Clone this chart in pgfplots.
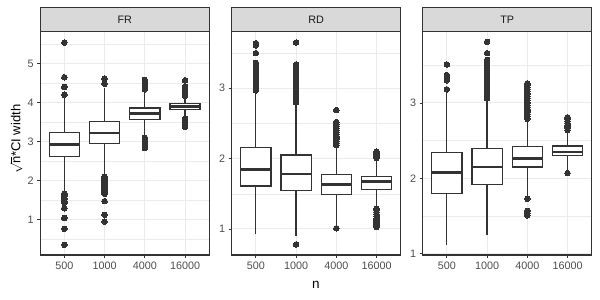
\documentclass[border=0pt]{standalone}
\usepackage{fontspec}
\setmainfont{Liberation Sans}
\usepackage{pgfplots}
\pgfplotsset{compat=1.18}
\usepgfplotslibrary{statistics}
\definecolor{grey10}{HTML}{1A1A1A}
\definecolor{grey20}{HTML}{333333}
\definecolor{grey30}{HTML}{4D4D4D}
\definecolor{grey85}{HTML}{D9D9D9}
\definecolor{grey92}{HTML}{EBEBEB}
\pgfplotsset{
  panel/.style={
    scale only axis, width=169pt, height=223pt, anchor=south west,
    xmin=0.4, xmax=4.6, xtick={1,2,3,4}, xticklabels={500,1000,4000,16000},
    axis line style={grey20, line width=1pt},
    tick style={grey20, line width=0.8pt},
    tick align=outside, major tick length=3pt, minor tick length=0pt,
    xtick pos=left, ytick pos=left,
    grid=both, major grid style={grey92, line width=1pt},
    minor grid style={grey92, line width=0.5pt},
    tick label style={font=\fontsize{10.8}{12}\selectfont, text=grey30},
    /pgf/number format/assume math mode=true,
    clip=false,
    boxplot/draw direction=y,
    boxplot/box extend=0.75, boxplot/whisker extend=0,
    boxplot/every median/.style={line width=2.8pt},
  },
  bx/.style={boxplot prepared={#1}, draw=grey20, fill=white, line width=1.3pt,
    solid, mark=*, mark size=2.8pt, mark options={fill=grey20, draw=grey20, line width=0pt}},
}
\newcommand{\strip}[1]{%
  \draw[grey20, line width=1pt, fill=grey85] (rel axis cs:0,1) rectangle ([yshift=24pt]rel axis cs:1,1);
  \node[text=grey10, font=\fontsize{10.8}{12}\selectfont] at ([yshift=12pt]rel axis cs:0.5,1) {#1};
}
\begin{document}
\begin{tikzpicture}
\useasboundingbox (0,0) rectangle (600pt,300pt);
% FR
\begin{axis}[panel, at={(40.2pt,45pt)}, ymin=0.09, ymax=5.81,
  ytick={1,2,3,4,5}, minor ytick={0.5,1.5,2.5,3.5,4.5,5.5}]
\addplot[bx={draw position=1, lower whisker=1.70, lower quartile=2.61, median=2.92, upper quartile=3.23, upper whisker=4.18}]
  coordinates {(0,4.20) (0,4.40) (0,4.65) (0,5.54) (0,1.67) (0,1.63) (0,1.59) (0,1.55) (0,1.51) (0,1.47) (0,1.43) (0,1.29) (0,1.04) (0,0.76) (0,0.35)};
\addplot[bx={draw position=2, lower whisker=2.16, lower quartile=2.95, median=3.22, upper quartile=3.51, upper whisker=4.38}]
  coordinates {(0,4.48) (0,4.61) (0,2.10) (0,2.06) (0,2.02) (0,1.98) (0,1.94) (0,1.90) (0,1.86) (0,1.82) (0,1.78) (0,1.74) (0,1.70) (0,1.66) (0,1.47) (0,1.12) (0,0.95)};
\addplot[bx={draw position=3, lower whisker=3.16, lower quartile=3.57, median=3.72, upper quartile=3.86, upper whisker=4.31}]
  coordinates {(0,4.34) (0,4.37) (0,4.40) (0,4.43) (0,4.46) (0,4.49) (0,4.52) (0,4.55) (0,4.58) (0,2.83) (0,2.86) (0,2.89) (0,2.92) (0,2.95) (0,2.98) (0,3.01) (0,3.04) (0,3.07) (0,3.10)};
\addplot[bx={draw position=4, lower whisker=3.65, lower quartile=3.82, median=3.90, upper quartile=3.98, upper whisker=4.12}]
  coordinates {(0,4.17) (0,4.20) (0,4.23) (0,4.26) (0,4.29) (0,4.32) (0,4.35) (0,4.38) (0,4.41) (0,4.57) (0,3.38) (0,3.41) (0,3.44) (0,3.47) (0,3.50) (0,3.53) (0,3.56) (0,3.59)};
\strip{FR}
\end{axis}
% RD
\begin{axis}[panel, at={(231.7pt,45pt)}, ymin=0.63, ymax=3.80,
  ytick={1,2,3}, minor ytick={0.5,1.5,2.5,3.5}]
\addplot[bx={draw position=1, lower whisker=0.93, lower quartile=1.61, median=1.85, upper quartile=2.16, upper whisker=2.94}]
  coordinates {(0,2.97) (0,3.00) (0,3.03) (0,3.06) (0,3.09) (0,3.12) (0,3.15) (0,3.18) (0,3.21) (0,3.24) (0,3.27) (0,3.30) (0,3.33) (0,3.36) (0,3.50) (0,3.61) (0,3.64)};
\addplot[bx={draw position=2, lower whisker=0.90, lower quartile=1.55, median=1.78, upper quartile=2.05, upper whisker=2.78}]
  coordinates {(0,2.80) (0,2.83) (0,2.86) (0,2.89) (0,2.92) (0,2.95) (0,2.98) (0,3.01) (0,3.04) (0,3.07) (0,3.10) (0,3.13) (0,3.16) (0,3.19) (0,3.22) (0,3.25) (0,3.28) (0,3.31) (0,3.34) (0,3.65) (0,0.78)};
\addplot[bx={draw position=3, lower whisker=1.06, lower quartile=1.49, median=1.63, upper quartile=1.77, upper whisker=2.17}]
  coordinates {(0,2.19) (0,2.22) (0,2.25) (0,2.28) (0,2.31) (0,2.34) (0,2.37) (0,2.40) (0,2.43) (0,2.46) (0,2.49) (0,2.52) (0,2.69) (0,1.01)};
\addplot[bx={draw position=4, lower whisker=1.32, lower quartile=1.56, median=1.68, upper quartile=1.75, upper whisker=1.98}]
  coordinates {(0,2.01) (0,2.04) (0,2.07) (0,2.10) (0,1.03) (0,1.06) (0,1.09) (0,1.12) (0,1.15) (0,1.18) (0,1.21) (0,1.24) (0,1.27) (0,1.29)};
\strip{RD}
\end{axis}
% TP
\begin{axis}[panel, at={(422.7pt,45pt)}, ymin=0.985, ymax=3.94,
  ytick={1,2,3}, minor ytick={1.5,2.5,3.5}]
\addplot[bx={draw position=1, lower whisker=1.12, lower quartile=1.80, median=2.08, upper quartile=2.34, upper whisker=3.13}]
  coordinates {(0,3.18) (0,3.30) (0,3.33) (0,3.37) (0,3.51)};
\addplot[bx={draw position=2, lower whisker=1.25, lower quartile=1.92, median=2.15, upper quartile=2.40, upper whisker=3.04}]
  coordinates {(0,3.06) (0,3.09) (0,3.12) (0,3.15) (0,3.18) (0,3.21) (0,3.24) (0,3.27) (0,3.30) (0,3.33) (0,3.36) (0,3.39) (0,3.42) (0,3.45) (0,3.48) (0,3.51) (0,3.54) (0,3.57) (0,3.66) (0,3.81)};
\addplot[bx={draw position=3, lower whisker=1.78, lower quartile=2.15, median=2.26, upper quartile=2.42, upper whisker=2.77}]
  coordinates {(0,2.79) (0,2.82) (0,2.85) (0,2.88) (0,2.91) (0,2.94) (0,2.97) (0,3.00) (0,3.03) (0,3.06) (0,3.09) (0,3.12) (0,3.15) (0,3.18) (0,3.21) (0,3.24) (0,3.26) (0,1.73) (0,1.51) (0,1.54) (0,1.57)};
\addplot[bx={draw position=4, lower whisker=2.11, lower quartile=2.30, median=2.35, upper quartile=2.43, upper whisker=2.62}]
  coordinates {(0,2.64) (0,2.67) (0,2.70) (0,2.73) (0,2.76) (0,2.79) (0,2.81) (0,2.07)};
\strip{TP}
\end{axis}
\node[rotate=90, anchor=base, inner sep=0pt, font=\fontsize{13}{14}\selectfont] at (20.5pt,160.7pt) {$\sqrt{\mbox{n}}$*CI width};
\node[anchor=base, inner sep=0pt, font=\fontsize{13.5}{15}\selectfont] at (316pt,11pt) {n};
\end{tikzpicture}
\end{document}
